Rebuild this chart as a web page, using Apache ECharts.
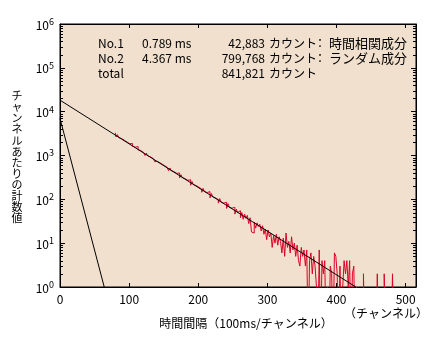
<!DOCTYPE html>
<html><head><meta charset="utf-8">
<script src="https://cdn.jsdelivr.net/npm/echarts@6/dist/echarts.min.js"></script>
<style>html,body{margin:0;padding:0;background:#fff}#c{width:437px;height:341px}</style>
</head><body><div id="c"></div>
<script>
// ---- data ----
const xTickLabels = [0, 100, 200, 300, 400, 500];
const yDecades = [1, 10, 100, 1000, 10000, 100000, 1000000];
const minorMultipliers = [2, 3, 4, 5, 6, 7, 8, 9];

// measured counts per channel, sampled every 2 channels starting at channel 80
const channelStart = 80;
const channelStep = 2;
const counts = [
  3300, 2650, 3000, 2560, 2440, 2500, 2230, 2130, 2030, 2150,
  1850, 1770, 1880, 1620, 1550, 1470, 1600, 1350, 1290, 1230,
  1173, 1250, 1000, 1130, 977, 930, 890, 850, 900, 720,
  742, 710, 677, 647, 690, 590, 564, 538, 580, 450,
  520, 448, 428, 409, 391, 373, 400, 310, 365, 311,
  297, 284, 271, 259, 280, 210, 255, 216, 206, 197,
  188, 180, 172, 145, 178, 149, 143, 136, 150, 108,
  136, 114, 108, 104, 99, 82, 104, 86, 82, 79,
  86, 62, 80, 66, 63, 60, 66, 46, 60, 50,
  55, 38, 50, 35, 46, 37, 43, 28, 38, 18,
  17, 30, 22, 29, 24, 27, 19, 25, 16, 21,
  12, 20, 14, 17, 8, 15, 10, 16, 9, 14,
  11, 6, 13, 5, 17, 8, 11, 6, 14, 7,
  10, 5, 9, 4, 3, 8, 5, 7, 3, 7,
  0, 4, 6, 2, 5, 3, 1, 0, 7, 0,
  4, 2, 4, 0, 1, 0, 3, 2, 0, 6,
  5, 2, 0, 3, 0, 1, 4, 2, 4, 1,
  4, 0, 2, 3, 0, 1, 0, 0, 0, 0,
  2, 0, 0, 0, 0, 0, 0, 0, 0, 0,
  2, 0, 0, 0, 0, 2, 0, 0, 0, 0,
  0, 2, 0, 0, 0, 0
];

// fitted components (end points)
const fit1X = [0, 64];
const fit1Y = [7000, 1];
const fit2X = [0, 428];
const fit2Y = [18300, 1];

// annotation texts
const rowLabels = ['No.1', 'No.2', 'total'];
const lifetimes = ['0.789 ms', '4.367 ms', ''];
const countTexts = ['42,883', '799,768', '841,821'];
const unitText = 'カウント';
const componentTexts = ['時間相関成分', 'ランダム成分', ''];
const yName = 'チャンネルあたりの計数値';
const xName = '時間間隔（100ms/チャンネル）';
const xUnit = '（チャンネル）';

// ---- chart ----
const FONT = '"Noto Sans CJK JP", "Liberation Sans", sans-serif';
const zeroFloor = 0.05; // zero counts are drawn to below the axis
const redData = counts.map((c, i) => [channelStart + i * channelStep, c > 0 ? c : zeroFloor]);
const fit1 = fit1X.map((x, i) => [x, fit1Y[i]]);
const fit2 = fit2X.map((x, i) => [x, fit2Y[i]]);
const minorTickValues = [];
yDecades.slice(0, -1).forEach(d => minorMultipliers.forEach(m => minorTickValues.push(d * m)));

const chart = echarts.init(document.getElementById('c'), null, { renderer: 'canvas' });

const rowY = [43, 58, 73];
const graphics = [];
rowLabels.forEach((t, i) => {
  const y = rowY[i];
  const base = { fill: '#000', fontSize: 12, fontFamily: FONT, verticalAlign: 'middle' };
  graphics.push({ type: 'text', x: 98, y, style: Object.assign({ text: t, align: 'left' }, base) });
  if (lifetimes[i]) graphics.push({ type: 'text', x: 142, y, style: Object.assign({ text: lifetimes[i], align: 'left' }, base) });
  graphics.push({ type: 'text', x: 265, y, style: Object.assign({ text: countTexts[i], align: 'right' }, base) });
  graphics.push({ type: 'text', x: 269, y, style: Object.assign({ text: unitText, align: 'left' }, base) });
  if (componentTexts[i]) {
    graphics.push({ type: 'text', x: 320, y, style: Object.assign({ text: '：', align: 'center' }, base) });
    graphics.push({ type: 'text', x: 329, y, style: Object.assign({ text: componentTexts[i], align: 'left' }, base, { fontSize: 13 }) });
  }
});
graphics.push({ type: 'text', x: 17, y: 157, style: { text: yName.split('').join('\n'), fill: '#000', fontSize: 11, lineHeight: 11.1, fontFamily: FONT, align: 'center', verticalAlign: 'middle' } });
graphics.push({ type: 'text', x: 246, y: 323, style: { text: xName, fill: '#000', fontSize: 12, fontFamily: FONT, align: 'center', verticalAlign: 'middle' } });
graphics.push({ type: 'text', x: 386, y: 313, style: { text: xUnit, fill: '#000', fontSize: 12, fontFamily: FONT, align: 'center', verticalAlign: 'middle' } });

const axisLineBlack = { show: true, onZero: false, lineStyle: { color: '#000', width: 1 } };

const option = {
  animation: false,
  backgroundColor: '#ffffff',
  grid: { left: 60, right: 21, top: 24, bottom: 54, show: true, backgroundColor: '#F0E0CD', borderColor: '#000', borderWidth: 1, containLabel: false, outerBoundsMode: 'none' },
  xAxis: [
    { type: 'value', min: 0, max: 515, interval: 100, position: 'bottom',
      axisLine: axisLineBlack,
      axisTick: { show: true, inside: true, length: 4, lineStyle: { color: '#000' } },
      axisLabel: { color: '#000', fontSize: 12, margin: 6, fontFamily: FONT, showMaxLabel: true,
        formatter: v => xTickLabels.includes(v) ? String(v) : '' },
      splitLine: { show: false } },
    { type: 'value', min: 0, max: 515, interval: 100, position: 'top',
      axisLine: axisLineBlack,
      axisTick: { show: true, inside: true, length: 4, lineStyle: { color: '#000' } },
      axisLabel: { show: false }, splitLine: { show: false } }
  ],
  yAxis: [
    { type: 'log', logBase: 10, min: 1, max: 1000000, splitNumber: 6, position: 'left',
      axisLine: axisLineBlack,
      axisTick: { show: true, inside: true, length: 5, lineStyle: { color: '#000' } },
      minorTick: { show: false },
      axisLabel: { color: '#000', margin: 6, fontFamily: FONT,
        formatter: v => '{b|10}{s|' + Math.round(Math.log10(v)) + '}',
        rich: { b: { fontSize: 12, fontFamily: FONT, color: '#000', verticalAlign: 'bottom' },
                s: { fontSize: 9, fontFamily: FONT, color: '#000', verticalAlign: 'bottom', padding: [0, 0, 5, 0] } } },
      splitLine: { show: false } },
    { type: 'log', logBase: 10, min: 1, max: 1000000, splitNumber: 6, position: 'right',
      axisLine: axisLineBlack,
      axisTick: { show: true, inside: true, length: 5, lineStyle: { color: '#000' } },
      axisLabel: { show: false }, splitLine: { show: false } }
  ],
  series: [
    { type: 'line', name: 'data', data: redData, step: 'middle', showSymbol: false, symbol: 'none',
      lineStyle: { color: '#DC0028', width: 1 }, clip: true, z: 2, silent: true },
    { type: 'line', name: 'fit1', data: fit1, showSymbol: false, symbol: 'none',
      lineStyle: { color: '#000', width: 1 }, clip: true, z: 3, silent: true },
    { type: 'line', name: 'fit2', data: fit2, showSymbol: false, symbol: 'none',
      lineStyle: { color: '#000', width: 1 }, clip: true, z: 3, silent: true },
    { type: 'custom', name: 'minorTicks', data: minorTickValues.map(v => [0, v]), silent: true, z: 5, clip: false,
      renderItem: (params, api) => {
        const y = Math.round(api.coord([0, api.value(1)])[1]) + 0.5;
        const cs = params.coordSys;
        return { type: 'group', children: [
          { type: 'line', shape: { x1: cs.x, y1: y, x2: cs.x + 3, y2: y }, style: { stroke: '#000', lineWidth: 1 } },
          { type: 'line', shape: { x1: cs.x + cs.width - 3, y1: y, x2: cs.x + cs.width, y2: y }, style: { stroke: '#000', lineWidth: 1 } }
        ] };
      } }
  ],
  graphic: graphics
};
chart.setOption(option);
</script>
</body></html>
